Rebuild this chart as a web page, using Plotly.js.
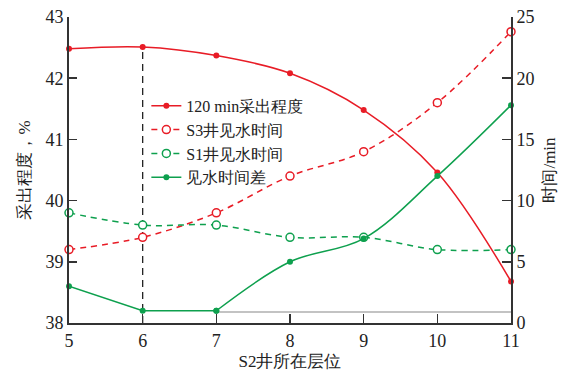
<!DOCTYPE html>
<html><head><meta charset="utf-8">
<script src="https://cdn.plot.ly/plotly-3.0.1.min.js"></script>
<style>html,body{margin:0;padding:0;background:#fff}#c{width:574px;height:382px}</style>
</head><body><div id="c"></div>
<script>
const layers = [5, 6, 7, 8, 9, 10, 11];
const recovery120 = [42.48, 42.51, 42.37, 42.08, 41.48, 40.46, 38.68];
const s3Time = [6.0, 7.0, 9.0, 12.0, 14.0, 18.0, 23.8];
const s1Time = [9.0, 8.0, 8.0, 7.0, 7.0, 6.0, 6.0];
const timeDiff = [3.0, 1.0, 1.0, 5.0, 6.9, 12.0, 17.8];
const names = ["120 min采出程度", "S3井见水时间", "S1井见水时间", "见水时间差"];
const leftTicks = [38, 39, 40, 41, 42, 43];
const rightTicks = [0, 5, 10, 15, 20, 25];
const baseLineTime = 0.9;

const RED = "rgb(232,28,38)", GREEN = "rgb(14,160,78)";
const fontFam = 'Times New Roman';
const F = (s) => ({family: fontFam, size: s, color: "#222"});

const traces = [
  {x: layers, y: recovery120, name: names[0], yaxis: "y", mode: "lines+markers",
   line: {color: RED, width: 1.5, shape: "spline", smoothing: 1},
   marker: {color: RED, size: 6, symbol: "circle"}, cliponaxis: false},
  {x: layers, y: s3Time, name: names[1], yaxis: "y2", mode: "lines+markers",
   line: {color: RED, width: 1.5, dash: "6px,5px", shape: "spline", smoothing: 1},
   marker: {color: "white", size: 8, symbol: "circle", line: {color: RED, width: 1.5}}, cliponaxis: false},
  {x: layers, y: s1Time, name: names[2], yaxis: "y2", mode: "lines+markers",
   line: {color: GREEN, width: 1.5, dash: "6px,5px", shape: "spline", smoothing: 1},
   marker: {color: "white", size: 8, symbol: "circle", line: {color: GREEN, width: 1.5}}, cliponaxis: false},
  {x: layers.slice(2), y: timeDiff.slice(2), name: names[3], yaxis: "y2", mode: "lines+markers",
   line: {color: GREEN, width: 1.5, shape: "spline", smoothing: 1},
   marker: {color: GREEN, size: 6, symbol: "circle"}, cliponaxis: false},
  {x: layers.slice(0, 3), y: timeDiff.slice(0, 3), name: names[3], yaxis: "y2", mode: "lines+markers",
   showlegend: false,
   line: {color: GREEN, width: 1.5},
   marker: {color: GREEN, size: 6, symbol: "circle"}, cliponaxis: false}
];

const axCol = "#333";
const layout = {
  width: 574, height: 382,
  margin: {l: 69, r: 63, t: 17, b: 59},
  paper_bgcolor: "white", plot_bgcolor: "white",
  font: F(17),
  showlegend: true,
  legend: {x: 0.175, y: 0.765, xanchor: "left", yanchor: "top", bgcolor: "rgba(0,0,0,0)",
           font: F(16), tracegroupgap: 0, itemwidth: 30},
  xaxis: {range: [5, 11], tickvals: layers, ticks: "inside", ticklen: 9, tickwidth: 1.5, tickcolor: axCol,
          showline: true, linecolor: axCol, linewidth: 2, showgrid: false, zeroline: false,
          tickfont: F(18), title: {text: "S2井所在层位", font: F(17), standoff: 6}},
  yaxis: {range: [38, 43], tickvals: leftTicks, ticks: "inside", ticklen: 8, tickwidth: 1.5, tickcolor: axCol,
          showline: true, linecolor: axCol, linewidth: 2, showgrid: false, zeroline: false,
          tickfont: F(18), title: {text: "采出程度，%", font: F(17), standoff: 10}},
  yaxis2: {range: [0, 25], tickvals: rightTicks, overlaying: "y", side: "right", ticks: "inside", ticklen: 9,
           tickwidth: 1.5, tickcolor: axCol, showline: true, linecolor: axCol, linewidth: 2, showgrid: false,
           zeroline: false, tickfont: F(18), title: {text: "时间/min", font: F(17), standoff: 10}},
  shapes: [
    {type: "line", xref: "x", yref: "y", x0: layers[1], x1: layers[1], y0: 38, y1: recovery120[1],
     line: {color: "#222", width: 1.3, dash: "7px,5px"}, layer: "below"},
    {type: "line", xref: "x", yref: "y2", x0: layers[2], x1: layers[6], y0: baseLineTime, y1: baseLineTime,
     line: {color: "#888", width: 1.2}, layer: "below"}
  ]
};
Plotly.newPlot("c", traces, layout, {staticPlot: true, displayModeBar: false});
</script></body></html>
